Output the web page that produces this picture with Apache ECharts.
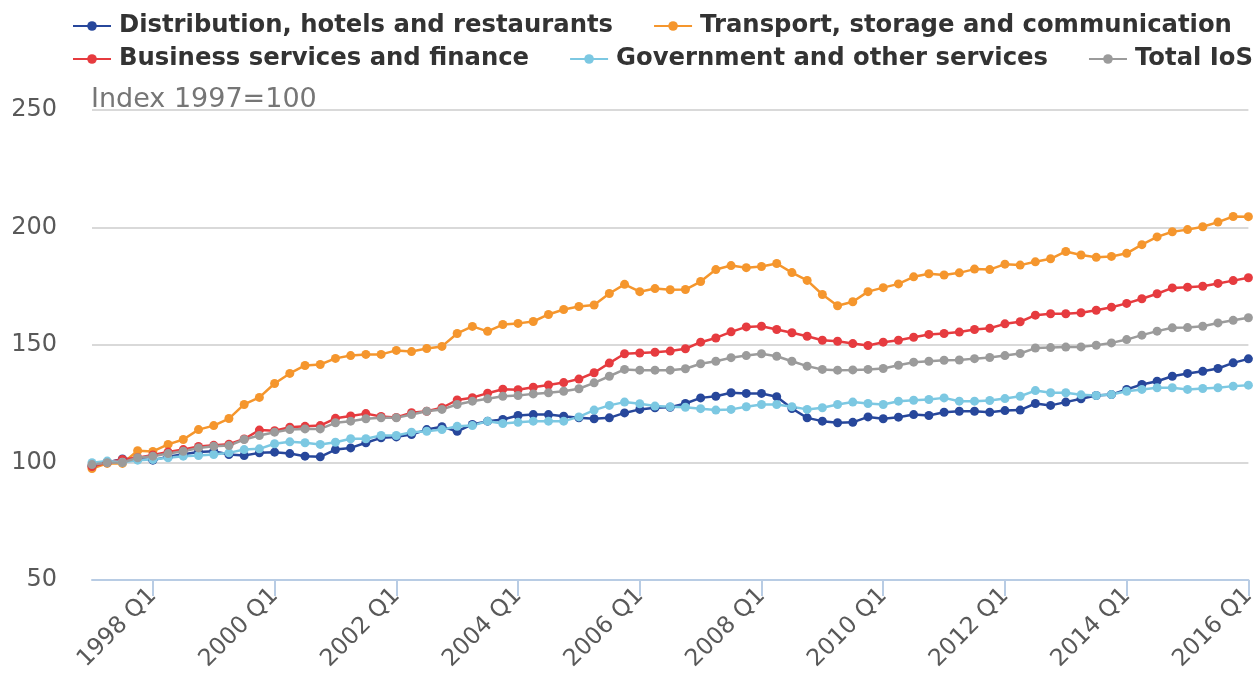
<!DOCTYPE html>
<html lang="en">
<head>
    <meta charset="UTF-8">
    <title>Index of Services</title>
    <script src="https://cdn.jsdelivr.net/npm/echarts@6/dist/echarts.min.js"></script>
    <style>
        html, body { margin: 0; padding: 0; background: #fff; }
        #main { width: 1259px; height: 689px; }
    </style>
</head>
<body>
<div id="main"></div>
<script type="text/javascript">

    // quarters 1997 Q1 .. 2016 Q1
    const quarters = [];
    for (let y = 1997; y <= 2016; y++) {
        for (let q = 1; q <= 4; q++) {
            if (y === 2016 && q > 1) break;
            quarters.push(y + ' Q' + q);
        }
    }

    const distribution = [
        98.5, 100, 101.5, 101.5, 101, 102.5, 103.5, 104.5, 104.8, 103.4,
        103, 104.1, 104.4, 103.8, 102.7, 102.4, 105.5, 106.2, 108.4, 110.5,
        110.9, 111.9, 114, 115.2, 113.3, 116.2, 117.6, 118.3, 120, 120.4,
        120.4, 119.7, 119, 118.6, 119, 121.1, 122.6, 123.3, 123.5, 125.1,
        127.5, 128.2, 129.7, 129.4, 129.4, 128, 123, 119, 117.6, 116.9,
        117.1, 119.4, 118.6, 119.3, 120.4, 120, 121.4, 121.8, 121.8, 121.4,
        122.1, 122.3, 125.1, 124.3, 125.7, 127.1, 128.5, 128.9, 131.1, 133.2,
        134.6, 136.7, 137.9, 138.8, 140, 142.4, 144.1
    ];
    const transport = [
        97.4, 99.6, 99.6, 105, 104.7, 107.7, 109.8, 114, 115.7, 118.7,
        124.7, 127.7, 133.6, 137.9, 141.3, 141.7, 144.3, 145.5, 146, 146,
        147.7, 147.2, 148.5, 149.4, 154.9, 157.9, 155.8, 158.7, 159.2, 160,
        163, 165.1, 166.4, 167, 171.9, 175.8, 172.7, 174, 173.5, 173.6,
        177, 182.1, 183.8, 182.9, 183.4, 184.7, 180.8, 177.5, 171.5, 166.7,
        168.4, 172.7, 174.4, 176, 179, 180.3, 179.8, 180.7, 182.3, 182.1,
        184.4, 184, 185.4, 186.7, 189.8, 188.3, 187.3, 187.7, 189, 192.7,
        196, 198.2, 199.1, 200.3, 202.3, 204.7, 204.6
    ];
    const business = [
        98.3, 100, 101.3, 102, 103.2, 104.5, 105.5, 106.8, 107.3, 107.8,
        110, 113.8, 113.5, 115, 115.4, 115.7, 118.8, 119.8, 120.8, 119.6,
        119.2, 121.2, 121.8, 123.3, 126.6, 127.6, 129.5, 131.2, 131, 132,
        133, 134, 135.5, 138.2, 142.3, 146.3, 146.6, 146.9, 147.4, 148.4,
        151.2, 153, 155.6, 157.7, 158, 156.6, 155.2, 153.7, 152, 151.6,
        150.6, 149.8, 151.2, 152, 153.3, 154.5, 154.9, 155.5, 156.6, 157.1,
        159, 159.9, 162.7, 163.3, 163.3, 163.7, 164.8, 166.1, 167.7, 169.7,
        171.8, 174.3, 174.6, 175, 176.2, 177.4, 178.6
    ];
    const government = [
        99.9, 100.6, 100.1, 101, 101.3, 102, 102.7, 103, 103.4, 104.1,
        105.5, 105.8, 108, 108.8, 108.4, 107.7, 108.6, 110.1, 110.1, 111.5,
        111.5, 112.9, 113.3, 114, 115.4, 115.7, 117.6, 116.6, 117.1, 117.6,
        117.6, 117.6, 119.4, 122.3, 124.3, 125.7, 125, 124, 123.7, 123.5,
        122.9, 122.3, 122.6, 123.7, 124.7, 124.7, 123.7, 122.6, 123.3, 124.7,
        125.7, 125.1, 124.7, 126.1, 126.5, 126.8, 127.5, 126.1, 126.1, 126.4,
        127.2, 128.2, 130.6, 129.7, 129.7, 128.8, 128.5, 128.9, 130.3, 131.1,
        131.8, 131.8, 131.1, 131.5, 131.8, 132.5, 132.9
    ];
    const totalIoS = [
        99.1, 99.9, 100, 102, 102.7, 103.8, 104.8, 106.2, 106.9, 107.2,
        109.8, 111.5, 112.9, 114, 114.3, 114.3, 116.9, 117.6, 118.6, 119,
        119, 120.4, 121.8, 122.6, 124.7, 126.1, 127.1, 128.2, 128.5, 129.2,
        129.7, 130.3, 131.4, 133.9, 136.7, 139.6, 139.3, 139.3, 139.3, 139.9,
        142, 143.1, 144.6, 145.5, 146.3, 145.2, 143.1, 141, 139.6, 139.3,
        139.4, 139.6, 140, 141.4, 142.7, 143.1, 143.5, 143.6, 144.2, 144.7,
        145.5, 146.4, 148.7, 148.9, 149.1, 149.2, 149.9, 150.9, 152.3, 154.2,
        155.9, 157.3, 157.4, 158, 159.4, 160.5, 161.6
    ];

    const names = [
        'Distribution, hotels and restaurants',
        'Transport, storage and communication',
        'Business services and finance',
        'Government and other services',
        'Total IoS'
    ];
    const colors = ['#27479b', '#f5962d', '#e63b3f', '#7cc8e2', '#9b9b9b'];
    const values = [distribution, transport, business, government, totalIoS];

    const fontFamily = 'DejaVu Sans';
    const everyTwoYears = function (i) { return (i - 4) % 8 === 0; };

    const legendText = {
        fontSize: 24.3, fontWeight: 'bold', color: '#333333', fontFamily: fontFamily,
        padding: [0, 0, 0, 3]
    };

    let myChart = echarts.init(document.getElementById('main'));
    const option = {
        animation: false,
        color: colors,
        title: {
            text: 'Index 1997=100',
            left: 91,
            top: 86,
            padding: 0,
            textStyle: { fontSize: 27, fontWeight: 'normal', color: '#767676', fontFamily: fontFamily }
        },
        legend: [{
            data: names.slice(0, 2),
            left: 72, top: 14, padding: 0,
            itemGap: 40, itemWidth: 38, itemHeight: 12,
            textStyle: legendText
        }, {
            data: names.slice(2),
            left: 72, top: 47, padding: 0,
            itemGap: 40, itemWidth: 38, itemHeight: 12,
            textStyle: legendText
        }],
        grid: { left: 92, right: 4, top: 110, bottom: 109 },
        xAxis: {
            type: 'category',
            boundaryGap: false,
            data: quarters,
            axisLine: { lineStyle: { color: '#b8cce4', width: 2 } },
            axisTick: { interval: everyTwoYears, length: 16, lineStyle: { color: '#b8cce4', width: 2 } },
            axisLabel: {
                interval: everyTwoYears, rotate: 45, margin: 12,
                fontSize: 23.5, color: '#595959', fontFamily: fontFamily
            }
        },
        yAxis: {
            type: 'value',
            min: 50, max: 250, interval: 50,
            axisLine: { show: false },
            axisTick: { show: false },
            axisLabel: { fontSize: 24, color: '#595959', margin: 35, fontFamily: fontFamily },
            splitLine: { lineStyle: { color: '#d9d9d9', width: 2 } }
        },
        series: names.map(function (n, k) {
            return {
                name: n,
                type: 'line',
                data: values[k],
                symbol: 'circle',
                symbolSize: 9,
                showAllSymbol: true,
                lineStyle: { width: 2.5 }
            };
        })
    };
    myChart.setOption(option);
</script>
</body>
</html>
